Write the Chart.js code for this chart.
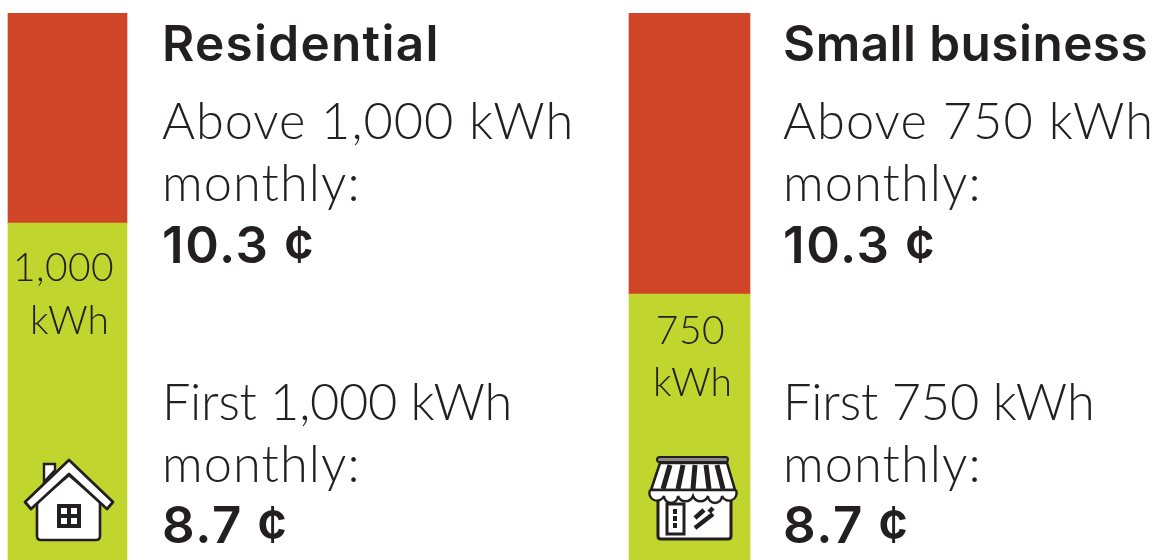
<!DOCTYPE html>
<html><head><meta charset="utf-8">
<script src="https://cdn.jsdelivr.net/npm/chart.js@4"></script>
<style>
html,body{margin:0;padding:0;background:#fff;width:1159px;height:560px;overflow:hidden}
body{position:relative;font-family:Lato,sans-serif;color:#231f20}
.c{position:absolute;top:0;height:560px}
.t{position:absolute;white-space:nowrap;line-height:1}
.h{font-family:Inter,sans-serif;font-weight:600;font-size:49.5px}
.l{font-weight:300;font-size:50.5px}
.v{font-family:Inter,sans-serif;font-weight:600;font-size:51px}
.b{font-weight:300;font-size:39px;text-align:center}
svg{position:absolute}
</style></head><body>
<div class="c" style="left:0;width:135px"><canvas id="c0"></canvas></div>
<div class="c" style="left:621px;width:137px"><canvas id="c1"></canvas></div>

<div class="t h" style="left:162px;top:19px;letter-spacing:1.3px">Residential</div>
<div class="t l" style="left:162px;top:95px;letter-spacing:1px">Above 1,000 kWh</div>
<div class="t l" style="left:162px;top:157px;letter-spacing:1.1px">monthly:</div>
<div class="t v" style="left:162px;top:219px;letter-spacing:1.6px">10.3 ¢</div>
<div class="t l" style="left:162px;top:376px;letter-spacing:-0.25px">First 1,000 kWh</div>
<div class="t l" style="left:162px;top:438px;letter-spacing:1.1px">monthly:</div>
<div class="t v" style="left:162px;top:499px;letter-spacing:1.6px">8.7 ¢</div>
<div class="t b" style="left:4px;width:119px;top:247px;letter-spacing:.4px">1,000</div>
<div class="t b" style="left:10px;width:119px;top:300px">kWh</div>

<div class="t h" style="left:783px;top:19px;letter-spacing:.45px">Small business</div>
<div class="t l" style="left:783px;top:95px;letter-spacing:1.1px">Above 750 kWh</div>
<div class="t l" style="left:783px;top:157px;letter-spacing:1.1px">monthly:</div>
<div class="t v" style="left:783px;top:219px;letter-spacing:1.6px">10.3 ¢</div>
<div class="t l" style="left:783px;top:376px;letter-spacing:-0.15px">First 750 kWh</div>
<div class="t l" style="left:783px;top:438px;letter-spacing:1.1px">monthly:</div>
<div class="t v" style="left:783px;top:499px;letter-spacing:1.6px">8.7 ¢</div>
<div class="t b" style="left:630px;width:121px;top:310px;letter-spacing:.5px">750</div>
<div class="t b" style="left:632px;width:121px;top:362px">kWh</div>

<svg style="left:0;top:440px" width="140" height="120" viewBox="0 0 140 120">
 <path d="M44 36V24H55V30L44 42Z" fill="#fff" stroke="#231f20" stroke-width="2.4"/>
 <path d="M37 62L69 35L100 62V96Q100 100 96 100H41Q37 100 37 96Z" fill="#fff" stroke="#231f20" stroke-width="2.6"/>
 <path d="M25 62L69 20L113 62L107 69L69 34L31 69Z" fill="#fff" stroke="#231f20" stroke-width="2.8" stroke-linejoin="round"/>
 <rect x="57" y="64" width="24" height="24" fill="#231f20"/>
 <rect x="61" y="68" width="6" height="6" fill="#fff"/><rect x="71" y="68" width="6" height="6" fill="#fff"/>
 <rect x="61" y="78" width="6" height="6" fill="#fff"/><rect x="71" y="78" width="6" height="6" fill="#fff"/>
</svg>
<svg style="left:625px;top:440px" width="140" height="120" viewBox="0 0 140 120">
 <path d="M33 56V96Q33 99 36 99H103Q106 99 106 96V56" fill="#fff" stroke="#231f20" stroke-width="3"/>
 <path d="M35 23H102L110 50H26Z" fill="#fff" stroke="#231f20" stroke-width="2.6"/>
 <rect x="32" y="17" width="71" height="5" rx="2.5" fill="#8a8d87" stroke="#231f20" stroke-width="2"/>
 <path d="M45 25L38 49M58 25L53 49M70 25L68 49M81 25L84 49M92 25L98 49" stroke="#231f20" stroke-width="5"/>
 <path d="M25 50H111M25 50A7 7 0 0 0 39 56A7 7 0 0 0 53 56A8 8 0 0 0 68 56A8 8 0 0 0 83 56A7 7 0 0 0 97 56A7 7 0 0 0 111 50" fill="#fff" stroke="#231f20" stroke-width="2.4"/>
 <rect x="42" y="64" width="17" height="30" fill="#fff" stroke="#231f20" stroke-width="3"/>
 <path d="M50 69V88" stroke="#231f20" stroke-width="4" stroke-dasharray="5 2"/>
 <path d="M70 78L79 70M84 72L88 68M70 88L88 74" stroke="#231f20" stroke-width="4.5"/>
</svg>

<script>
const stackNames = ["Below threshold", "Above threshold"];
const residentialValues = [1000, 623];
const businessValues = [750, 793];
const categoriesA = ["Residential"];
const categoriesB = ["Small business"];
const stackColors = ["#c0d52e", "#d04427"];

function draw(id, labels, values, width) {
  return new Chart(document.getElementById(id), {
    type: "bar",
    data: {
      labels,
      datasets: values.map((v, i) => ({
        label: stackNames[i], data: [v],
        backgroundColor: stackColors[i], borderWidth: 0,
        barThickness: width
      }))
    },
    options: {
      responsive: true, maintainAspectRatio: false, animation: false,
      layout: { padding: { top: 13, bottom: 0, left: 0, right: 0 } },
      plugins: { legend: { display: false }, tooltip: { enabled: false } },
      scales: {
        x: { stacked: true, display: false },
        y: { stacked: true, display: false, min: 0, max: values[0] + values[1] }
      }
    }
  });
}
draw("c0", categoriesA, residentialValues, 119);
draw("c1", categoriesB, businessValues, 121);
</script>
</body></html>
